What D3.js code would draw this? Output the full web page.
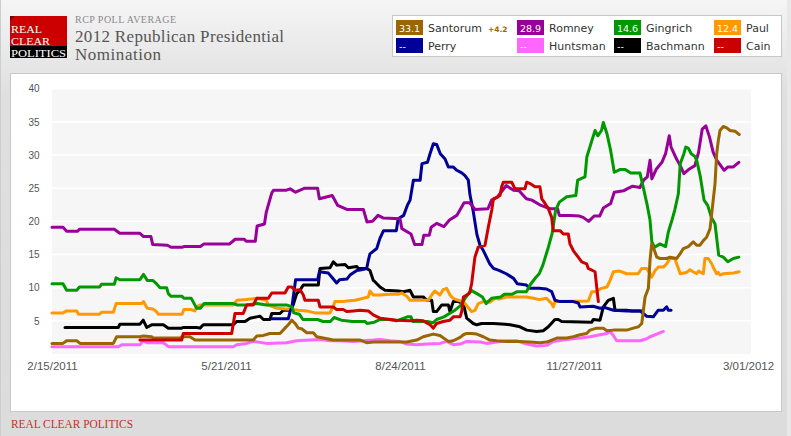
<!DOCTYPE html>
<html>
<head>
<meta charset="utf-8">
<script src="https://cdn.jsdelivr.net/npm/d3@7"></script>
<style>
  html, body { margin: 0; padding: 0; background: #e8e8e8; }
  svg { display: block; }
</style>
</head>
<body>
<svg id="chart" width="791" height="436"></svg>
<script>
// RCP poll average.
// Each point is [days after 2011-02-15, percent].
const startDate = new Date(2011, 1, 15)
const endDate = new Date(2012, 2, 1)

const santorum = [[0,1.6],[6,1.6],[8,2.0],[13.5,2.0],[15.3,1.6],[33.5,1.6],[35.3,2.6],[48,2.6],[49.8,2.7],[54.4,2.6],[55.3,2.4],[69.9,2.4],[70.8,2.6],[75.3,2.6],[78.1,2.1],[109.9,2.1],[111.8,2.7],[115.4,2.8],[119,3.1],[124.5,3.1],[127.2,3.9],[129,4.4],[130.9,5.1],[132.7,4.6],[134.5,3.9],[136.3,3.8],[139.1,3.2],[142.7,3.2],[144.5,2.6],[148.1,2.4],[153.6,2.1],[168.2,2.1],[171.8,1.7],[175.4,1.8],[193.7,1.8],[199.1,2.1],[202.7,2.6],[208.2,3.0],[211.8,2.8],[216.4,1.9],[219.1,2.0],[222.8,2.5],[224.6,2.9],[226.4,3.1],[229.1,3.1],[231.9,3.0],[235.5,2.6],[239.1,2.1],[242.8,2.0],[248.3,1.9],[255.5,1.9],[261,1.8],[266.4,1.7],[270.1,1.8],[275.6,2.4],[281,2.4],[284.6,2.6],[288.3,2.9],[291.9,3.1],[293.7,3.6],[297.4,3.9],[301,3.9],[302.9,3.5],[306.5,3.6],[313.8,3.6],[317.4,3.9],[320.2,4.1],[322,4.6],[322.9,6.6],[323.8,8.6],[325.6,9.9],[326.5,14.1],[327.4,16.6],[328.3,16.1],[330.2,14.6],[332,14.4],[335.6,14.4],[337.4,14.6],[341.1,14.4],[342.9,15.1],[344.7,15.9],[347.4,16.2],[350.1,16.9],[352,16.4],[353.8,16.4],[355.6,17.1],[357.4,17.6],[359.3,18.9],[360.2,21.2],[362,25.7],[362.9,30.2],[363.8,32.2],[364.7,33.7],[366.5,34.3],[368.4,34.1],[370.2,33.7],[372.9,33.6],[375.2,33.1]]

const romney = [[0,19.1],[6,19.1],[8,18.5],[14,18.5],[15,18.8],[34,18.8],[37,18.2],[48,18.2],[50,17.7],[54,17.7],[55,16.5],[63,16.4],[65,16.1],[71,16.1],[72,16.2],[81,16.2],[83,16.6],[97,16.6],[100,17.3],[105,17.3],[106,17.0],[111,17.0],[112,19.3],[116,19.6],[117,21.4],[120,24.3],[121,24.7],[128,24.7],[130,24.9],[133,24.4],[138,25.0],[145,25.0],[146,23.4],[153,23.9],[156,22.4],[161,21.8],[170,21.8],[172,19.9],[175,20.0],[178,20.9],[181,20.5],[190,20.4],[191,18.9],[196,18.1],[198,16.5],[202,16.5],[203,17.9],[206,17.9],[207,19.1],[210,19.7],[214,19.2],[217,20.2],[221,20.9],[225,22.8],[228,22.8],[231,21.8],[238,21.9],[240,23.2],[243,23.6],[248,25.4],[252,24.7],[255,24.6],[259,23.4],[262,23.2],[267,22.4],[272,21.9],[276,21.9],[277,20.9],[283,20.9],[288,20.8],[290,20.6],[293,20.0],[296,20.8],[299,20.8],[301,22.0],[305,22.7],[307,24.4],[312,24.6],[314,24.9],[317,25.3],[321,25.1],[323,26.2],[325,26.7],[326.5,29.2],[327.5,26.4],[330,27.9],[333,28.9],[335,30.2],[337,32.9],[338,31.2],[341,29.4],[343,28.4],[345,27.2],[348,27.9],[351,28.4],[353,30.4],[355,33.9],[357,34.4],[359,32.7],[361,30.4],[363,29.2],[367,27.7],[369,28.2],[372,28.2],[375,28.9]]

const gingrich = [[0,10.6],[6,10.6],[8,9.6],[13.5,9.6],[15,10.1],[26,10.1],[27,10.5],[34,10.5],[35,11.5],[37,11.2],[48,11.2],[50,12.0],[52,11.1],[55,11.1],[57,10.6],[59,10.0],[62.6,10.0],[63.5,9.1],[65,8.7],[71,8.7],[72,8.4],[76,8.4],[77,7.9],[79,6.9],[81,6.9],[83,7.6],[99,7.6],[101,7.4],[106,7.4],[112,7.6],[117,7.4],[128,7.4],[131,7.1],[132,6.2],[135,6.0],[137,5.2],[145,5.2],[148,4.9],[152,4.9],[154,5.5],[158,5.1],[164,4.9],[171,4.9],[172,4.6],[176,4.8],[179,5.2],[184,5.2],[188,5.0],[194,5.6],[196,5.6],[197,4.9],[205,4.9],[208,4.7],[210,5.2],[214,5.6],[217,6.1],[220,6.6],[223,7.3],[226,8.6],[229,9.6],[230,9.4],[232,9.1],[235,8.6],[237,7.6],[240,8.4],[245,8.6],[247,9.0],[251,9.0],[254,9.4],[259,9.4],[261,10.4],[264,11.5],[266,12.1],[268,13.4],[271,16.1],[273,18.1],[275,21.7],[277,22.9],[281,23.7],[286,23.9],[287,26.2],[291,26.7],[292,29.7],[295,32.4],[296.5,33.7],[298,32.9],[300,33.7],[301,34.9],[303,33.2],[305,30.7],[307,27.4],[310,27.8],[313,27.8],[316,27.3],[321,27.3],[323,24.9],[325,22.4],[326.5,20.2],[327.5,16.9],[329,16.1],[332,16.6],[335,16.2],[336.5,18.4],[338.5,20.2],[340,21.7],[342,24.2],[343,28.7],[345,30.2],[346,31.2],[347.5,31.0],[349,30.2],[351,29.8],[352,29.2],[354,26.7],[356,23.2],[358,22.4],[360,20.6],[362,19.6],[364,14.9],[366.5,14.6],[369,13.9],[372,14.4],[375,14.6]]

const paul = [[0,6.2],[6,6.2],[8,6.5],[13.5,6.5],[14.4,6.0],[26,6.0],[27,6.3],[33.5,6.3],[35,7.6],[49,7.6],[50,7.9],[52,6.9],[55,6.8],[57,6.4],[58,6.0],[71,6.0],[72,6.7],[76,6.7],[78,6.5],[79,7.1],[81,7.4],[99,7.4],[101,8.1],[106,8.2],[112,8.4],[115,8.2],[117,8.1],[118,7.4],[122.7,6.9],[131,6.7],[134.5,6.6],[139,6.5],[143.6,6.2],[151.8,6.2],[153.6,7.2],[154.5,7.9],[159,7.9],[161,8.0],[165.4,8.1],[170,8.4],[172.7,8.6],[173.6,9.5],[175.4,8.9],[179,8.9],[184.5,9.0],[189,9.0],[191,9.2],[193.7,8.7],[195.5,8.1],[205.5,8.1],[207.3,8.9],[209,9.5],[211.8,8.9],[213.6,9.7],[215.5,9.9],[217.3,8.9],[219,8.4],[221.8,8.1],[224.6,7.9],[229,6.4],[231,6.6],[232.7,7.6],[235.5,7.9],[239,7.8],[242,8.4],[244,8.3],[248,8.6],[259,8.6],[263,8.4],[266,8.2],[270,8.4],[272.8,7.6],[273.7,7.1],[274.6,7.9],[292.8,8.0],[294.7,9.4],[297,9.4],[300,9.9],[303,10.1],[304.7,11.1],[306.5,12.4],[310,12.5],[313.8,12.1],[320,12.1],[322,12.9],[324.7,12.9],[326.5,12.1],[327.4,11.6],[329.3,12.6],[331,13.1],[333.8,13.1],[335.6,13.6],[337.4,14.4],[340,14.4],[342,12.9],[343,12.1],[346.5,12.3],[348.3,12.7],[350,12.4],[352,12.1],[353,12.5],[355.6,12.1],[356.5,14.4],[358.3,14.4],[360.2,13.6],[361.1,13.0],[362.9,12.1],[363.8,12.3],[364.7,11.9],[366.5,12.1],[372,12.2],[375.2,12.4]]

const perry = [[120,5.3],[129,5.3],[130,6.4],[131,7.1],[133,11.2],[145,11.2],[146,12.4],[150.9,12.2],[152.7,11.6],[155.4,10.7],[157,11.2],[161,11.3],[162.7,11.9],[166.4,12.6],[169,12.7],[171.8,12.9],[172.7,14.1],[173.6,15.1],[177.3,15.9],[179,17.4],[181,18.6],[188,18.6],[189,20.4],[192,20.9],[194,22.4],[195.5,23.2],[197.3,26.2],[201,26.2],[202,28.7],[205,28.9],[206.4,30.2],[208.2,31.7],[210,31.6],[212,30.2],[214.6,29.4],[216.4,28.2],[219,28.2],[221,27.7],[223.7,27.3],[225.5,26.9],[227.3,26.2],[228.2,24.0],[230,21.5],[232,18.0],[233.7,16.4],[235.5,15.6],[239,13.6],[241,12.9],[244,12.6],[248,12.1],[252,11.4],[254,10.6],[259,10.4],[261,9.9],[266,9.9],[270,9.8],[272.8,9.4],[274.6,8.1],[277.4,7.9],[284.6,7.9],[287.3,7.7],[288.3,7.1],[295.5,7.2],[299.2,6.9],[302,7.0],[306.5,6.6],[313.8,6.5],[321,6.5],[324.7,5.7],[328.3,5.6],[331,6.6],[333.8,6.6],[335.6,7.1],[336.5,6.6],[338,6.6]]

const huntsman = [[0,1.1],[36.2,1.1],[38.1,1.4],[48,1.4],[49.8,2.0],[51.7,1.7],[60.8,1.7],[63.5,1.1],[99,1.1],[100.8,1.4],[106.3,1.6],[109.9,1.9],[117.2,1.6],[128.1,1.7],[133.6,2.0],[146.3,2.2],[151.8,2.0],[157.2,2.0],[164.5,1.9],[170,2.0],[175.4,2.1],[179.1,2.2],[184.5,2.0],[190,1.9],[193.7,1.5],[199.1,1.4],[204.6,1.5],[211.8,1.6],[215.5,1.9],[219.1,1.4],[222.8,1.5],[226.4,1.9],[233.7,1.8],[237.3,1.6],[242.8,1.8],[248.3,2.0],[253.7,2.0],[259.2,1.5],[264.6,1.2],[270.1,1.3],[273.7,1.9],[281,2.2],[288.3,2.4],[293.7,2.6],[299.2,2.9],[302.9,3.1],[304.7,3.4],[306.5,2.8],[308.3,2.0],[321.1,2.0],[324.7,2.3],[326.5,2.6],[330.2,3.0],[333.8,3.4]]

const bachmann = [[7.1,4.0],[36.2,4.0],[37.1,4.5],[48,4.5],[49.8,5.1],[51.7,4.0],[54.4,4.4],[60.8,4.4],[63.5,3.9],[70.8,3.9],[71.7,4.0],[79,4.0],[80.8,3.9],[82.6,4.4],[99,4.4],[100.8,4.9],[105.4,4.9],[108.1,5.4],[111.8,5.6],[113.6,5.7],[115.4,5.2],[119,5.2],[120,6.1],[124.5,6.1],[126.3,6.6],[129.9,6.6],[131.7,7.4],[133.6,9.1],[135.4,9.6],[137.2,10.4],[145.4,10.4],[146.3,12.9],[151.8,13.0],[153.6,13.9],[155.4,13.4],[160,13.5],[161.8,13.0],[166.4,13.2],[167.2,12.9],[171.8,12.9],[173.6,12.6],[175.4,11.1],[176.3,10.9],[179.1,10.1],[181.8,9.6],[189.1,9.5],[191.8,9.4],[195.5,9.6],[197.3,8.6],[202.7,8.6],[204.6,8.1],[207.3,8.1],[208.2,6.4],[210,6.4],[212.8,7.4],[216.4,7.4],[217.3,6.4],[219.1,7.9],[221.8,7.9],[224.6,7.6],[226.4,5.4],[230,4.6],[231.9,4.4],[234.6,4.6],[241,4.6],[247.3,4.5],[250.1,4.4],[255.5,4.1],[259.2,3.6],[264.6,3.4],[268.2,3.5],[271,4.1],[274.6,5.2],[276.4,5.2],[278.3,4.9],[294.7,4.8],[295.5,5.2],[299.2,5.1],[300.1,6.1],[301,7.1],[303.7,8.1],[306.5,8.4],[307.4,6.6],[313.8,6.6],[316.6,6.5],[322,6.5]]

const cain = [[48,2.1],[70.8,2.1],[71.7,3.1],[98.1,3.1],[99.9,6.1],[104.4,6.1],[106.3,7.4],[109.9,7.4],[111.8,8.4],[118.1,8.4],[120,9.2],[127.2,9.2],[129,10.1],[130.9,10.1],[132.7,9.6],[135.4,9.7],[137.2,8.9],[138.1,8.1],[145.4,8.1],[146.3,7.1],[153.6,7.1],[155.4,6.7],[159,6.7],[160.9,6.4],[164.5,6.5],[168.2,6.6],[172.7,6.5],[175.4,5.9],[179.1,5.4],[188.2,5.1],[195.5,5.0],[199.1,5.1],[202.7,5.0],[206.4,4.4],[208.2,3.9],[210,4.6],[213.6,4.9],[217.3,5.1],[219.1,5.6],[222.8,5.6],[223.7,6.4],[224.6,8.6],[226.4,8.9],[228,9.2],[229.1,10.6],[230.9,14.6],[232.7,16.1],[236.4,16.4],[238.2,19.1],[240.1,21.7],[241,23.4],[242.8,23.6],[244.6,23.9],[245.5,25.2],[246.4,25.9],[251,25.9],[252.8,24.9],[258.2,24.9],[259.2,25.9],[261,25.7],[263.7,25.2],[266.4,25.2],[267.4,23.4],[269.2,22.7],[271,21.9],[272.8,20.6],[273.7,18.6],[277.4,18.6],[279.2,18.1],[281.9,18.1],[282.8,16.6],[284.6,15.6],[287.3,14.6],[289.2,13.9],[291.9,13.6],[292.8,12.9],[296.5,12.4],[297.4,10.1],[298.3,7.9]]

const candidates = ['Santorum', 'Romney', 'Gingrich', 'Paul', 'Perry', 'Huntsman', 'Bachmann', 'Cain']
const colors = ['#996600', '#990099', '#009900', '#ff9900', '#000099', '#ff66ff', '#000000', '#cc0000']
const latest = ['33.1', '28.9', '14.6', '12.4', '--', '--', '--', '--']
const change = ['+4.2', '', '', '', '', '', '', '']
const series = [santorum, romney, gingrich, paul, perry, huntsman, bachmann, cain]
const drawOrder = [5, 6, 3, 4, 1, 2, 0, 7]

const yTicks = [5, 10, 15, 20, 25, 30, 35, 40]
const xTicks = [new Date(2011, 1, 15), new Date(2011, 4, 21), new Date(2011, 7, 24), new Date(2011, 10, 27), new Date(2012, 2, 1)]

const svg = d3.select('#chart')

// page background
const defs = svg.append('defs')
const grad = defs.append('linearGradient')
  .attr('id', 'bg')
  .attr('x1', 0).attr('y1', 0).attr('x2', 0).attr('y2', 1)
grad.append('stop').attr('offset', 0).attr('stop-color', '#f5f5f5')
grad.append('stop').attr('offset', 0.22).attr('stop-color', '#dfdfdf')
grad.append('stop').attr('offset', 1).attr('stop-color', '#dcdcdc')

svg.append('rect')
  .attr('width', 787).attr('height', 436)
  .attr('fill', 'url(#bg)')
svg.append('line')
  .attr('x1', 0.5).attr('x2', 0.5).attr('y1', 0).attr('y2', 436)
  .attr('stroke', '#cdcdcd')

// logo
const logo = svg.append('g').attr('class', 'logo')
logo.append('rect').attr('x', 10).attr('y', 16).attr('width', 57).attr('height', 30).attr('fill', '#cc0000')
logo.append('path').attr('d', 'M10,16 L15,16 L10,21 Z').attr('fill', '#7a0000')
logo.append('rect').attr('x', 10).attr('y', 46).attr('width', 57).attr('height', 12).attr('fill', '#000')
logo.selectAll('text')
  .data([['REAL', 33, 31], ['CLEAR', 44.8, 39], ['POLITICS', 56.6, 55]])
  .join('text')
  .attr('x', 11)
  .attr('y', d => d[1])
  .attr('textLength', d => d[2])
  .attr('lengthAdjust', 'spacingAndGlyphs')
  .attr('fill', '#fff')
  .attr('font-family', "'Liberation Serif', serif")
  .attr('font-size', 10.5)
  .text(d => d[0])

// titles
svg.append('text')
  .text('RCP POLL AVERAGE')
  .attr('x', 75).attr('y', 22.5)
  .attr('textLength', 101)
  .attr('fill', '#8a8a8a')
  .attr('font-family', "'Liberation Serif', serif")
  .attr('font-size', 10)

svg.append('text')
  .text('2012 Republican Presidential')
  .attr('x', 75).attr('y', 42)
  .attr('textLength', 209)
  .attr('fill', '#555')
  .attr('font-family', "'Liberation Serif', serif")
  .attr('font-size', 17)

svg.append('text')
  .text('Nomination')
  .attr('x', 75).attr('y', 60)
  .attr('textLength', 86)
  .attr('fill', '#555')
  .attr('font-family', "'Liberation Serif', serif")
  .attr('font-size', 17)

// legend
const legendX = [396, 517, 614, 714]
const legendY = [20, 38]
svg.append('rect')
  .attr('x', 392.5).attr('y', 15.5).attr('width', 389).attr('height', 41)
  .attr('fill', '#fff').attr('stroke', '#c8c8c8')

const item = svg.append('g').attr('class', 'legend')
  .selectAll('g')
  .data(candidates)
  .join('g')
  .attr('transform', (d, i) => 'translate(' + legendX[i % 4] + ',' + legendY[Math.floor(i / 4)] + ')')

item.append('rect')
  .attr('width', 27).attr('height', 15)
  .attr('fill', (d, i) => colors[i])

item.append('text')
  .text((d, i) => latest[i])
  .attr('x', 3).attr('y', 11.5)
  .attr('fill', '#fff')
  .attr('font-family', "'DejaVu Sans', sans-serif")
  .attr('font-size', 9.5)

item.append('text')
  .text(d => d)
  .attr('x', 32).attr('y', 11.5)
  .attr('fill', '#333')
  .attr('font-family', "'DejaVu Sans', sans-serif")
  .attr('font-size', 11)

item.filter((d, i) => change[i] !== '')
  .append('text')
  .text((d, i) => change[i])
  .attr('x', 92).attr('y', 11.5)
  .attr('fill', '#996600')
  .attr('font-weight', 'bold')
  .attr('font-family', "'DejaVu Sans', sans-serif")
  .attr('font-size', 7.5)

// chart card
svg.append('rect')
  .attr('x', 10.5).attr('y', 73.5).attr('width', 771).attr('height', 338)
  .attr('fill', '#fff').attr('stroke', '#c8c8c8')

const xScale = d3.scaleTime().domain([startDate, endDate]).range([52, 748])
const yScale = d3.scaleLinear().domain([0, 40]).range([354, 88.7])

const plot = svg.append('g').attr('class', 'plot')
plot.append('rect')
  .attr('x', 52).attr('y', yScale(40))
  .attr('width', 699).attr('height', yScale(0) - yScale(40))
  .attr('fill', '#f6f6f6')

plot.selectAll('.grid')
  .data(yTicks)
  .join('line')
  .attr('class', 'grid')
  .attr('x1', 52).attr('x2', 751)
  .attr('y1', d => yScale(d)).attr('y2', d => yScale(d))
  .attr('stroke', '#fff')
  .attr('stroke-width', 1.5)

const yAxis = svg.append('g')
  .attr('class', 'y-axis')
  .attr('transform', 'translate(52, 0)')
  .call(d3.axisLeft(yScale).tickValues(yTicks).tickSize(0).tickPadding(12.5))
yAxis.select('.domain').remove()
yAxis.selectAll('text')
  .attr('fill', '#555')
  .attr('font-family', "'Liberation Sans', Arial, sans-serif")
  .attr('font-size', 10)

const xAxis = svg.append('g')
  .attr('class', 'x-axis')
  .attr('transform', 'translate(0, 354)')
  .call(d3.axisBottom(xScale).tickValues(xTicks).tickSize(0).tickPadding(8)
    .tickFormat(d3.timeFormat('%-m/%d/%Y')))
xAxis.select('.domain').remove()
xAxis.selectAll('text')
  .attr('fill', '#555')
  .attr('font-family', "'Liberation Sans', Arial, sans-serif")
  .attr('font-size', 11.5)

const line = d3.line()
  .x(d => xScale(new Date(startDate.getTime() + d[0] * 864e5)))
  .y(d => yScale(d[1]))

plot.selectAll('.series')
  .data(drawOrder)
  .join('path')
  .attr('class', 'series')
  .attr('d', i => line(series[i]))
  .attr('fill', 'none')
  .attr('stroke', i => colors[i])
  .attr('stroke-width', 3)
  .attr('stroke-linejoin', 'round')
  .attr('stroke-linecap', 'round')

// footer
svg.append('text')
  .text('REAL CLEAR POLITICS')
  .attr('x', 11).attr('y', 427.5)
  .attr('textLength', 122)
  .attr('lengthAdjust', 'spacingAndGlyphs')
  .attr('fill', '#c4302b')
  .attr('font-family', "'Liberation Serif', serif")
  .attr('font-size', 11.5)
</script>
</body>
</html>
